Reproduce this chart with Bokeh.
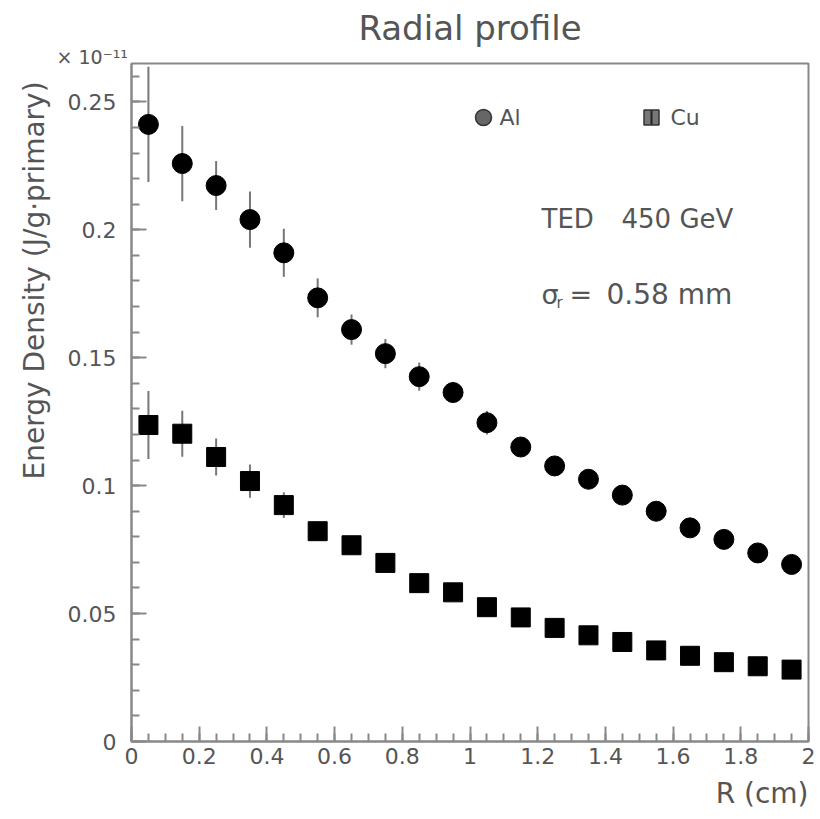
import numpy as np
from bokeh.plotting import figure
from bokeh.models import Label, FixedTicker, Range1d, Title
from bokeh.embed import file_html
from bokeh.resources import INLINE

# ---------------- data ----------------
r_cm = [0.05, 0.15, 0.25, 0.35, 0.45, 0.55, 0.65, 0.75, 0.85, 0.95,
        1.05, 1.15, 1.25, 1.35, 1.45, 1.55, 1.65, 1.75, 1.85, 1.95]
al_density = [0.2412, 0.2259, 0.2173, 0.2040, 0.1910, 0.1734, 0.1610, 0.1516, 0.1426, 0.1364,
              0.1246, 0.1151, 0.1077, 0.1025, 0.0963, 0.0900, 0.0835, 0.0790, 0.0737, 0.0692]
al_error = [0.0225, 0.0147, 0.0096, 0.0110, 0.0094, 0.0076, 0.0059, 0.0057, 0.0055, 0.0040,
            0.0046, 0.0035, 0.0032, 0.0030, 0.0028, 0.0026, 0.0024, 0.0022, 0.0020, 0.0019]
cu_density = [0.1237, 0.1203, 0.1112, 0.1018, 0.0924, 0.0822, 0.0767, 0.0698, 0.0619, 0.0583,
              0.0525, 0.0485, 0.0444, 0.0415, 0.0389, 0.0356, 0.0335, 0.0310, 0.0294, 0.0281]
cu_error = [0.0133, 0.0090, 0.0072, 0.0065, 0.0050, 0.0035, 0.0030, 0.0028, 0.0026, 0.0024,
            0.0022, 0.0020, 0.0019, 0.0018, 0.0017, 0.0016, 0.0015, 0.0014, 0.0013, 0.0012]

x_tick_values = [0.0, 0.2, 0.4, 0.6, 0.8, 1.0, 1.2, 1.4, 1.6, 1.8, 2.0]
x_tick_labels = ["0", "0.2", "0.4", "0.6", "0.8", "1", "1.2", "1.4", "1.6", "1.8", "2"]
y_tick_values = [0.0, 0.05, 0.1, 0.15, 0.2, 0.25]
y_tick_labels = ["0", "0.05", "0.1", "0.15", "0.2", "0.25"]

# ---------------- layout ----------------
W, H = 820, 819
L, R, T, B = 131, 12, 63, 78
X0, X1 = 0.0, 2.0
Y0, Y1 = 0.0, 0.265
FONT = "DejaVu Sans"
TXT = "#555555"
AX = "#888888"

p = figure(width=W, height=H, x_range=Range1d(X0, X1), y_range=Range1d(Y0, Y1),
           output_backend="svg", toolbar_location=None,
           min_border_left=L, min_border_right=R, min_border_top=T, min_border_bottom=B)
p.background_fill_color = "white"
p.border_fill_color = "white"
p.xgrid.visible = False
p.ygrid.visible = False
p.outline_line_color = AX
p.outline_line_width = 2


def dx(px):
    return X0 + (px - L) / (W - L - R) * (X1 - X0)


def dy(py):
    return Y1 - (py - T) / (H - T - B) * (Y1 - Y0)


p.xaxis.ticker = FixedTicker(ticks=x_tick_values,
                             minor_ticks=[float(v) for v in np.round(np.arange(0, 2.001, 0.05), 2)])
p.xaxis.major_label_overrides = dict(zip(x_tick_values, x_tick_labels))
p.yaxis.ticker = FixedTicker(ticks=y_tick_values,
                             minor_ticks=[float(v) for v in np.round(np.arange(0, 0.2651, 0.01), 2)])
p.yaxis.major_label_overrides = dict(zip(y_tick_values, y_tick_labels))

for ax in (p.xaxis[0], p.yaxis[0]):
    ax.axis_line_color = AX
    ax.axis_line_width = 2
    ax.major_tick_line_color = AX
    ax.major_tick_line_width = 2
    ax.minor_tick_line_color = AX
    ax.minor_tick_line_width = 2
    ax.major_tick_out = 0
    ax.minor_tick_out = 0
    ax.major_tick_in = 15
    ax.minor_tick_in = 8
    ax.major_label_text_font = FONT
    ax.major_label_text_font_size = "22px"
    ax.major_label_text_color = TXT
p.yaxis.major_label_standoff = 15
p.xaxis.major_label_standoff = 6

# ---------------- data marks ----------------
al_lo = [v - e for v, e in zip(al_density, al_error)]
al_hi = [v + e for v, e in zip(al_density, al_error)]
cu_lo = [v - e for v, e in zip(cu_density, cu_error)]
cu_hi = [v + e for v, e in zip(cu_density, cu_error)]

p.segment(x0=r_cm, y0=al_lo, x1=r_cm, y1=al_hi, line_color="#777777", line_width=2)
p.segment(x0=r_cm, y0=cu_lo, x1=r_cm, y1=cu_hi, line_color="#777777", line_width=2)
p.scatter(x=r_cm, y=al_density, marker="circle", size=20, fill_color="black", line_color="black")
p.scatter(x=r_cm, y=cu_density, marker="square", size=19, fill_color="black", line_color="black")

# ---------------- legend (manual, ROOT style) ----------------
p.scatter(x=[dx(483)], y=[dy(117)], marker="circle", size=16, fill_color="#666666", line_color="#333333", line_width=1.5)
p.scatter(x=[dx(651)], y=[dy(117)], marker="square", size=15, fill_color="#777777", line_color="#333333", line_width=1.5)
p.segment(x0=[dx(651)], y0=[dy(110)], x1=[dx(651)], y1=[dy(124)], line_color="#222222", line_width=2)


def lab(text, px, py, size, align="left", baseline="middle", angle=0.0):
    p.add_layout(Label(x=dx(px), y=dy(py), text=text, text_font=FONT,
                       text_font_size=f"{size}px", text_color=TXT,
                       text_align=align, text_baseline=baseline, angle=angle))


lab("Al", 499, 117, 22)
lab("Cu", 670, 117, 22)
lab("TED", 541, 218, 26)
lab("450 GeV", 621, 218, 26)
lab("σ", 541, 294, 27)
lab("r", 556, 302, 15)
lab("=", 569, 294, 27)
lab("0.58 mm", 606, 294, 28)

# ---------------- titles in the margins ----------------
p.title.visible = False


def side_title(text, side, size, align, offset=0, standoff=0):
    t = Title(text=text, align=align, offset=offset, text_font=FONT,
              text_font_size=f"{size}px", text_color=TXT, text_font_style="normal")
    t.standoff = standoff
    p.add_layout(t, side)
    return t


side_title("× 10⁻¹¹", "above", 19, "left", offset=-75, standoff=-8)
side_title("Radial profile", "above", 34, "center", standoff=0)
side_title("Energy Density (J/g·primary)", "left", 28, "left", offset=262, standoff=27)
side_title("R (cm)", "below", 28, "right", standoff=17)

open("out.html", "w").write(file_html(p, INLINE))
